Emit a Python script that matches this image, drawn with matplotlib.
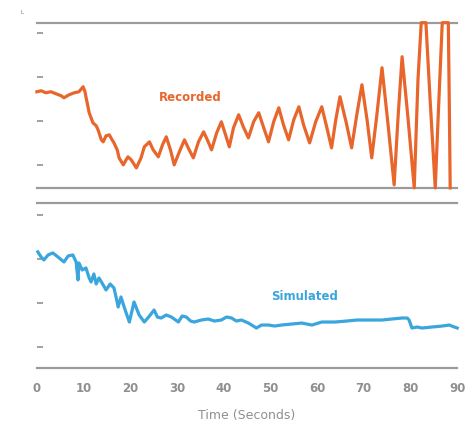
import matplotlib
matplotlib.use('Agg')
import matplotlib.pyplot as plt

# ─────────────────────────────────────────────────────────────
# DATA (arbitrary vertical units)
# ─────────────────────────────────────────────────────────────
REC_T = [0.0, 0.9, 1.9, 3.0, 4.1, 5.2, 5.8, 6.9, 8.0, 9.0, 9.9, 10.3, 10.5,
         11.2, 11.6, 12.0, 12.7, 13.1, 13.8, 14.2, 14.8, 15.5, 16.1, 16.5,
         17.2, 17.6, 18.5, 19.1, 19.5, 20.2, 21.3, 22.3, 23.0, 24.1, 24.9,
         26.0, 26.9, 27.7, 28.6, 29.4, 30.5, 31.6, 32.4, 33.5, 34.6, 35.7,
         36.5, 37.4, 38.5, 39.5, 40.4, 41.2, 42.1, 43.2, 44.2, 45.3, 46.4,
         47.5, 48.5, 49.6, 50.7, 51.8, 52.8, 53.9, 55.0, 56.1, 57.1, 58.4,
         59.7, 61.0, 62.1, 63.1, 64.0, 64.9, 66.2, 67.4, 68.5, 69.6, 70.7,
         71.7, 72.8, 73.9, 75.2, 76.5, 77.3, 78.2, 79.5, 80.8, 81.6, 82.3,
         83.3, 84.2, 85.3, 85.9, 86.8, 88.1, 88.3, 88.5]
REC_V = [9.6, 9.7, 9.5, 9.6, 9.4, 9.2, 9.0, 9.3, 9.5, 9.6, 10.1, 9.6, 9.1,
         7.5, 7.0, 6.5, 6.2, 5.8, 4.8, 4.6, 5.2, 5.3, 4.8, 4.5,
         3.8, 3.0, 2.3, 2.8, 3.1, 2.8, 2.0, 3.0, 4.1, 4.6, 3.8,
         3.1, 4.3, 5.1, 3.8, 2.3, 3.6, 4.8, 4.0, 3.0, 4.6, 5.6,
         4.8, 3.8, 5.5, 6.6, 5.3, 4.1, 6.0, 7.3, 6.1, 5.0, 6.6,
         7.5, 6.1, 4.6, 6.6, 8.0, 6.3, 4.8, 6.8, 8.1, 6.3, 4.5,
         6.6, 8.1, 6.0, 4.0, 6.8, 9.1, 6.6, 4.0, 7.3, 10.3, 6.8,
         3.0, 7.3, 12.0, 6.3, 0.3, 6.8, 13.1, 6.8, 0.0, 10.8, 16.5,
         16.5, 8.8, 0.0, 6.8, 16.5, 16.5, 8.8, 0.0]

SIM_T = [0.2, 0.9, 1.5, 2.4, 3.4, 4.5, 5.8, 6.7, 7.7, 8.4, 8.8, 9.0, 9.7,
         10.5, 11.2, 11.6, 12.2, 12.7, 13.3, 14.2, 14.8, 15.7, 16.5, 17.0,
         17.4, 18.0, 18.9, 19.8, 20.8, 21.9, 23.0, 24.1, 25.1, 25.8, 26.6,
         27.7, 28.8, 30.3, 31.1, 32.0, 32.9, 33.7, 35.2, 36.7, 38.0, 39.5,
         40.6, 41.7, 42.7, 43.8, 45.3, 47.0, 48.1, 49.6, 50.9, 52.4, 54.6,
         56.7, 58.9, 61.0, 63.8, 66.4, 68.5, 71.1, 73.9, 76.0, 78.2, 79.3,
         79.7, 80.3, 81.4, 82.5, 84.6, 86.8, 88.3, 89.4, 90.0]
SIM_V = [11.6, 11.1, 10.8, 11.3, 11.5, 11.1, 10.6, 11.2, 11.3, 10.6, 8.8,
         10.5, 9.8, 10.0, 9.0, 8.6, 9.4, 8.4, 9.0, 8.3, 7.8, 8.4, 8.0, 7.0,
         6.1, 7.1, 5.8, 4.6, 6.6, 5.3, 4.6, 5.2, 5.8, 5.1, 5.0, 5.3, 5.1,
         4.6, 5.2, 5.1, 4.7, 4.6, 4.8, 4.9, 4.7, 4.8, 5.1, 5.0, 4.7, 4.8,
         4.5, 4.0, 4.3, 4.3, 4.2, 4.3, 4.4, 4.5, 4.3, 4.6, 4.6, 4.7, 4.8,
         4.8, 4.8, 4.9, 5.0, 5.0, 4.8, 4.0, 4.1, 4.0, 4.1, 4.2, 4.3, 4.1,
         4.0]

REC_TICKS = [2.3, 6.7, 11.1, 15.5]
SIM_TICKS = [2.1, 6.5, 10.9, 15.3]
X_TICKS = [0, 10, 20, 30, 40, 50, 60, 70, 80, 90]

ORANGE = '#e8662c'
BLUE = '#3ba5dd'
GRAY = '#9b9b9b'
TEXT_GRAY = '#8f8f8f'

# ─────────────────────────────────────────────────────────────
# FIGURE
# ─────────────────────────────────────────────────────────────
fig = plt.figure(figsize=(4.67, 4.28), dpi=100)
ax_top = fig.add_axes([0.079, 0.561, 0.900, 0.386])
ax_bot = fig.add_axes([0.079, 0.140, 0.900, 0.386])


def style_panel(ax, yticks):
    ax.set_xlim(0, 90)
    ax.set_ylim(0, 16.5)
    for side in ('left', 'right'):
        ax.spines[side].set_visible(False)
    for side in ('top', 'bottom'):
        ax.spines[side].set_color(GRAY)
        ax.spines[side].set_linewidth(1.6)
    ax.set_yticks(yticks)
    ax.set_yticklabels([])
    ax.tick_params(axis='y', direction='in', length=4.5, width=1.3,
                   color=GRAY, pad=0)
    ax.set_xticks(X_TICKS)
    ax.tick_params(axis='x', length=0, pad=10, labelsize=8.5,
                   labelcolor=TEXT_GRAY)
    for lbl in ax.get_xticklabels():
        lbl.set_fontweight('bold')


style_panel(ax_top, REC_TICKS)
style_panel(ax_bot, SIM_TICKS)
ax_top.set_xticklabels([])

ax_top.plot(REC_T, REC_V, color=ORANGE, linewidth=2.3, clip_on=False,
            solid_joinstyle='round', zorder=3)
ax_bot.plot(SIM_T, SIM_V, color=BLUE, linewidth=2.3, clip_on=False,
            solid_joinstyle='round', zorder=3)

ax_top.text(32.8, 9.0, 'Recorded', color=ORANGE, fontsize=8.5,
            fontweight='bold', ha='center', va='center')
ax_bot.text(57.3, 7.1, 'Simulated', color=BLUE, fontsize=8.5,
            fontweight='bold', ha='center', va='center')

ax_bot.set_xlabel('Time (Seconds)', fontsize=9, color=TEXT_GRAY, labelpad=10)

fig.text(0.047, 0.970, 'L', fontsize=4, color='#777777',
         ha='center', va='center')

fig.savefig('out.png', dpi=100)
